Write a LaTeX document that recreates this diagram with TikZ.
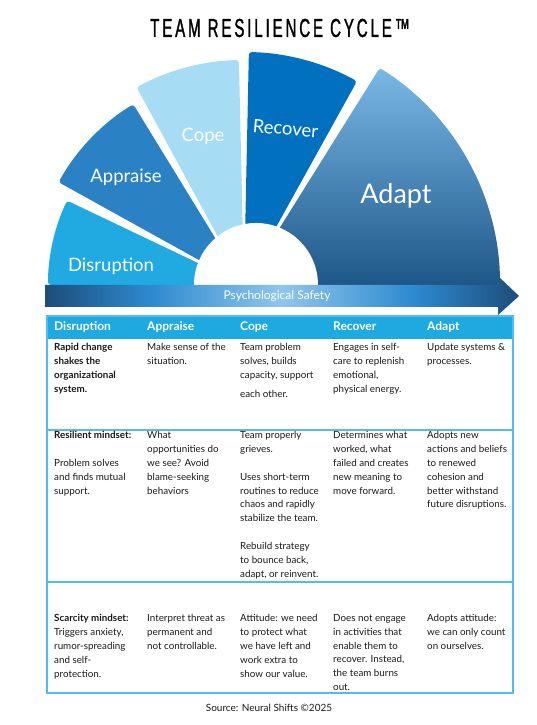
\documentclass[tikz,border=0pt]{standalone}
\usepackage{fontspec}
\setmainfont{Lato}
\newfontfamily\titlefont[FakeStretch=0.58,LetterSpace=11,FakeBold=1.2]{Liberation Sans}
\usepackage{xcolor}
\usetikzlibrary{calc}
\definecolor{CycleDisrupt}{HTML}{21A9E1}
\definecolor{CycleAppraise}{HTML}{2A82C5}
\definecolor{CycleCope}{HTML}{A6DCF4}
\definecolor{CycleRecover}{HTML}{0170BF}
\definecolor{AdaptTop}{HTML}{7AB8E6}
\definecolor{AdaptMid}{HTML}{2E86C9}
\definecolor{AdaptBot}{HTML}{1D5788}
\definecolor{SafeDark}{HTML}{1E4D7A}
\definecolor{SafeMid}{HTML}{2D89CF}
\definecolor{SafeLight}{HTML}{8FC6EC}
\definecolor{TableHead}{HTML}{1EA9E1}
\definecolor{TableRule}{HTML}{52BCEA}
\definecolor{TableText}{HTML}{1A1A1A}
\pgfdeclarehorizontalshading{safety}{100bp}{color(0bp)=(SafeDark); color(25bp)=(SafeDark); color(36bp)=(SafeMid); color(50bp)=(SafeLight); color(64bp)=(SafeMid); color(75bp)=(SafeDark); color(100bp)=(SafeDark)}
\newcommand{\cellstrut}{\rule{0pt}{8pt}}

\begin{document}
\begin{tikzpicture}[x=1pt, y=1pt,
  every node/.style={inner sep=0pt},
  fanlabel/.style={text=white, anchor=base, font=\fontsize{18.5}{20}\selectfont},
  headcell/.style={anchor=base west, text=white, font=\bfseries\fontsize{12}{14}\selectfont},
  cell/.style={anchor=north west, align=left, text=TableText, font=\fontsize{9.8}{13.9}\selectfont, execute at begin node=\cellstrut},
  rule/.style={draw=TableRule, line width=1.6pt}
]
\useasboundingbox (0,0) rectangle (536,725);

\node[font=\titlefont\fontsize{26}{28}\selectfont] (title) at (280,697) {TEAM RESILIENCE CYCLE™};

\coordinate (fan) at (244,440);
\coordinate (hub) at (256,440);
\fill[CycleDisrupt, shift={(fan)}, rounded corners=3pt] (0,0) -- (180:196) arc[start angle=180, end angle=154.5, radius=196] -- cycle;
\fill[CycleAppraise, shift={(fan)}, rounded corners=3pt] (0,0) -- (151:212) arc[start angle=151, end angle=121.5, radius=212] -- cycle;
\fill[CycleCope, shift={(fan)}, rounded corners=3pt] (0,0) -- (118.5:225) arc[start angle=118.5, end angle=91.3, radius=225] -- cycle;
\fill[CycleRecover, shift={(fan)}, rounded corners=3pt] (0,0) -- (88.8:233) arc[start angle=88.8, end angle=61, radius=233] -- cycle;
\shade[top color=AdaptTop, middle color=AdaptMid, bottom color=AdaptBot, shift={(fan)}, rounded corners=3pt] (0,0) -- (58:256) arc[start angle=58, end angle=0, radius=256] -- cycle;
\fill[white] (hub) circle[radius=62];

\node[fanlabel] (disruption) at (111,453) {Disruption};
\node[fanlabel] (appraise) at (126,542) {Appraise};
\node[fanlabel] (cope) at (203,583) {Cope};
\node[fanlabel, rotate=-5] (recover) at (285,590) {Recover};
\node[fanlabel, font=\fontsize{27}{30}\selectfont] (adapt) at (396,521) {Adapt};

\shade[shading=safety] (45,440) -- (498,440) -- (498,449) -- (519,429) -- (498,410) -- (498,418) -- (45,418) -- cycle;
\node[text=white, font=\fontsize{12}{14}\selectfont] (safety) at (277,429) {Psychological Safety};

\fill[TableHead] (47,409) rectangle (513,386);
\draw[rule] (47,409) rectangle (513,32);
\draw[rule] (47,295) -- (513,295);
\draw[rule] (47,143) -- (513,143);

\node[headcell] (dis-h) at (54,394) {Disruption};
\node[headcell] (app-h) at (147,394) {Appraise};
\node[headcell] (cop-h) at (240,394) {Cope};
\node[headcell] (rec-h) at (333,394) {Recover};
\node[headcell] (ada-h) at (427,394) {Adapt};

\node[cell, font=\bfseries\fontsize{9.8}{13.9}\selectfont] (dis-1) at (54,382) {Rapid change\\shakes the\\organizational\\system.};
\node[cell] (app-1) at (147,382) {Make sense of the\\situation.};
\node[cell] (cop-1) at (240,382) {Team problem\\solves, builds\\capacity, support\\[5pt]each other.};
\node[cell] (rec-1) at (333,382) {Engages in self-\\care to replenish\\emotional,\\physical energy.};
\node[cell] (ada-1) at (427,382) {Update systems \&\\processes.};

\node[cell] (dis-2) at (54,294) {\textbf{Resilient mindset:}\\[13.9pt]Problem solves\\and finds mutual\\support.};
\node[cell] (app-2) at (147,294) {What\\opportunities do\\we see? Avoid\\blame-seeking\\behaviors};
\node[cell] (cop-2) at (240,294) {Team properly\\grieves.\\[13.9pt]Uses short-term\\routines to reduce\\chaos and rapidly\\stabilize the team.\\[13.9pt]Rebuild strategy\\to bounce back,\\adapt, or reinvent.};
\node[cell] (rec-2) at (333,294) {Determines what\\worked, what\\failed and creates\\new meaning to\\move forward.};
\node[cell] (ada-2) at (427,294) {Adopts new\\actions and beliefs\\to renewed\\cohesion and\\better withstand\\future disruptions.};

\node[cell] (dis-3) at (54,111) {\textbf{Scarcity mindset:}\\Triggers anxiety,\\rumor-spreading\\and self-\\protection.};
\node[cell] (app-3) at (147,111) {Interpret threat as\\permanent and\\not controllable.};
\node[cell] (cop-3) at (240,111) {Attitude: we need\\to protect what\\we have left and\\work extra to\\show our value.};
\node[cell] (rec-3) at (333,111) {Does not engage\\in activities that\\enable them to\\recover. Instead,\\the team burns\\out.};
\node[cell] (ada-3) at (427,111) {Adopts attitude:\\we can only count\\on ourselves.};

\node[anchor=base, text=TableText, font=\fontsize{10}{12}\selectfont] (source) at (269,13) {Source: Neural Shifts ©2025};
\end{tikzpicture}
\end{document}
